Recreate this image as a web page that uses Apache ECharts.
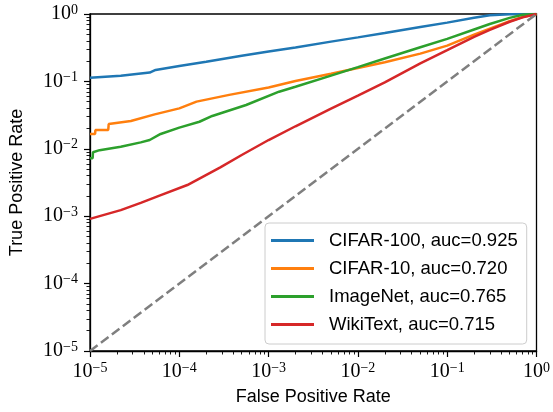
<!DOCTYPE html>
<html><head><meta charset="utf-8">
<script src="https://cdn.jsdelivr.net/npm/echarts@6/dist/echarts.min.js"></script>
<style>html,body{margin:0;padding:0;background:#fff}#c{width:553px;height:412px}</style>
</head><body><div id="c"></div>
<script>
const seriesNames = ['CIFAR-100, auc=0.925', 'CIFAR-10, auc=0.720', 'ImageNet, auc=0.765', 'WikiText, auc=0.715'];
const seriesColors = ['#1f77b4', '#ff7f0e', '#2ca02c', '#d62728'];

const fprCifar100 = [1e-5, 2.21e-5, 4.66e-5, 5.43e-5, 1e-4, 2e-4, 5e-4, 1e-3, 2e-3, 5e-3, 1e-2, 2e-2, 5e-2, 0.1, 0.2, 0.3, 0.5, 1];
const tprCifar100 = [0.1135, 0.1216, 0.135, 0.148, 0.169, 0.196, 0.240, 0.277, 0.319, 0.389, 0.450, 0.521, 0.640, 0.745, 0.877, 0.959, 0.989, 1];

const fprCifar10 = [1e-5, 1.14e-5, 1.15e-5, 1.6e-5, 1.62e-5, 2.87e-5, 5.3e-5, 1e-4, 1.56e-4, 3.62e-4, 1e-3, 2e-3, 5e-3, 1e-2, 2e-2, 5e-2, 0.1, 0.2, 0.3, 0.5, 0.7, 1];
const tprCifar10 = [0.0166, 0.0166, 0.019, 0.019, 0.0233, 0.0258, 0.0324, 0.0398, 0.0501, 0.0631, 0.0813, 0.1014, 0.130, 0.158, 0.192, 0.258, 0.339, 0.494, 0.608, 0.780, 0.902, 1];

const fprImageNet = [1e-5, 1.07e-5, 1.08e-5, 1.28e-5, 2.21e-5, 3.7e-5, 4.66e-5, 6.18e-5, 1e-4, 1.68e-4, 2.34e-4, 5.6e-4, 1.31e-3, 2e-3, 5e-3, 1e-2, 2e-2, 5e-2, 0.1, 0.2, 0.3, 0.5, 0.7, 1];
const tprImageNet = [0.00724, 0.00724, 0.0089, 0.00955, 0.0107, 0.01245, 0.0135, 0.0166, 0.0206, 0.0252, 0.0307, 0.0447, 0.0703, 0.0834, 0.122, 0.163, 0.219, 0.321, 0.427, 0.589, 0.71, 0.877, 0.977, 1];

const fprWikiText = [1e-5, 2.21e-5, 3.7e-5, 6e-5, 1.23e-4, 2.88e-4, 5e-4, 1e-3, 2e-3, 5e-3, 1e-2, 2e-2, 5e-2, 0.1, 0.2, 0.3, 0.5, 0.7, 1];
const tprWikiText = [0.000912, 0.00123, 0.00158, 0.00202, 0.0029, 0.0053, 0.0081, 0.0135, 0.0216, 0.0394, 0.0617, 0.097, 0.185, 0.290, 0.457, 0.582, 0.767, 0.891, 1];

const chanceLine = [1e-5, 1];

const majorTicks = [1e-5, 1e-4, 1e-3, 1e-2, 1e-1, 1];
const minorTicks = [];
for (let d = -5; d < 0; d++) for (let k = 2; k <= 9; k++) minorTicks.push(+(k * Math.pow(10, d)).toPrecision(6));

const fprs = [fprCifar100, fprCifar10, fprImageNet, fprWikiText];
const tprs = [tprCifar100, tprCifar10, tprImageNet, tprWikiText];

function fmt(v) {
  const e = Math.round(Math.log10(v));
  return '{b|10}{s|' + (e < 0 ? '\u2212' + (-e) : e) + '}';
}
const rich = {
  b: {fontFamily: 'Liberation Serif', fontSize: 20, lineHeight: 22, color: '#000', verticalAlign: 'middle'},
  s: {fontFamily: 'Liberation Serif', fontSize: 14, lineHeight: 14, color: '#000', verticalAlign: 'top'}
};
const axisCommon = (isMain) => ({
  type: 'log', logBase: 10, min: 1e-5, max: 1,
  axisLine: {show: isMain, onZero: false, lineStyle: {color: '#000', width: 1.3}},
  axisTick: {show: true, inside: false, length: isMain ? 6 : 3.5, lineStyle: {color: '#000', width: isMain ? 1.2 : 0.9}, customValues: isMain ? majorTicks : minorTicks},
  splitLine: {show: false},
  minorTick: {show: false},
  minorSplitLine: {show: false}
});

const series = seriesNames.map((name, i) => ({
  name, type: 'line', showSymbol: false, symbol: 'none',
  data: fprs[i].map((x, j) => [x, tprs[i][j]]),
  lineStyle: {color: seriesColors[i], width: 2.5},
  itemStyle: {color: seriesColors[i]},
  animation: false
}));
series.push({
  name: 'chance', type: 'line', showSymbol: false, symbol: 'none',
  data: chanceLine.map(v => [v, v]),
  lineStyle: {color: '#7f7f7f', width: 2.5, type: [9.5, 4.2]},
  itemStyle: {color: '#7f7f7f'},
  animation: false
});

const chart = echarts.init(document.getElementById('c'));
chart.setOption({
  animation: false,
  grid: {left: 90, right: 14, top: 14, bottom: 61, show: true, borderColor: '#000', borderWidth: 1.3, backgroundColor: 'transparent'},
  xAxis: [
    Object.assign(axisCommon(true), {
      position: 'bottom',
      axisLabel: {customValues: majorTicks, formatter: fmt, rich, margin: 10},
      name: 'False Positive Rate', nameLocation: 'middle', nameGap: 37,
      nameTextStyle: {fontFamily: 'Liberation Sans', fontSize: 18, color: '#000'}
    }),
    Object.assign(axisCommon(false), {position: 'bottom', axisLabel: {show: false}})
  ],
  yAxis: [
    Object.assign(axisCommon(true), {
      position: 'left',
      axisLabel: {customValues: majorTicks, formatter: fmt, rich, margin: 12},
      name: 'True Positive Rate', nameLocation: 'middle', nameGap: 64,
      nameTextStyle: {fontFamily: 'Liberation Sans', fontSize: 18, color: '#000'}
    }),
    Object.assign(axisCommon(false), {position: 'left', axisLabel: {show: false}})
  ],
  legend: {
    data: seriesNames, orient: 'vertical', left: 265, top: 223,
    itemWidth: 43, itemHeight: 3, icon: 'rect', itemGap: 9,
    padding: [8, 9, 10, 6],
    borderColor: '#cccccc', borderWidth: 1, borderRadius: 4,
    backgroundColor: 'rgba(255,255,255,0.8)',
    selectedMode: false,
    textStyle: {fontFamily: 'Liberation Sans', fontSize: 18.5, lineHeight: 18, color: '#000', padding: [0, 0, 0, 10]}
  },
  series
});
</script></body></html>
